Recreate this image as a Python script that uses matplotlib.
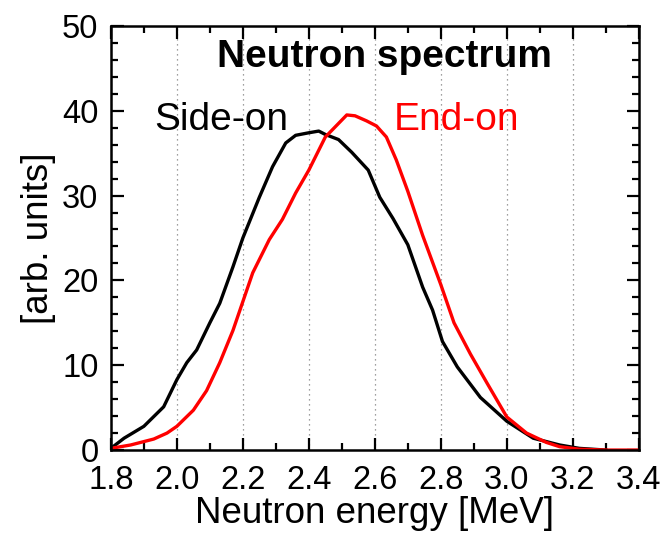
import matplotlib
matplotlib.use("Agg")
import matplotlib.pyplot as plt
from matplotlib.ticker import MultipleLocator

plt.rcParams["font.family"] = ["Liberation Sans", "DejaVu Sans"]

# Side-on spectrum (energy in MeV, counts in arb. units)
side_x = [1.80, 1.84, 1.90, 1.96, 2.00, 2.03, 2.06, 2.10, 2.13, 2.17, 2.20,
          2.25, 2.29, 2.33, 2.36, 2.40, 2.43, 2.45, 2.49, 2.53, 2.58, 2.615,
          2.655, 2.70, 2.745, 2.775, 2.805, 2.85, 2.92, 3.00, 3.08, 3.16,
          3.22, 3.30]
side_y = [0.2, 1.4, 2.8, 5.1, 8.3, 10.3, 11.8, 15.0, 17.3, 21.6, 25.0,
          29.8, 33.4, 36.2, 37.1, 37.4, 37.6, 37.2, 36.6, 35.1, 33.0, 29.8,
          27.3, 24.2, 19.2, 16.5, 12.8, 9.8, 6.2, 3.4, 1.4, 0.6,
          0.2, 0.0]

# End-on spectrum
end_x = [1.80, 1.86, 1.93, 1.97, 2.00, 2.05, 2.09, 2.13, 2.17, 2.20, 2.23,
         2.28, 2.32, 2.36, 2.40, 2.45, 2.485, 2.515, 2.54, 2.575, 2.605,
         2.635, 2.665, 2.70, 2.745, 2.80, 2.84, 2.89, 2.94, 3.00, 3.06,
         3.12, 3.16, 3.22, 3.30, 3.40]
end_y = [0.2, 0.6, 1.3, 2.0, 2.8, 4.7, 7.0, 10.3, 14.1, 17.5, 20.9,
         24.8, 27.2, 30.3, 33.0, 36.9, 38.3, 39.5, 39.4, 38.8, 38.2,
         36.9, 34.2, 30.5, 25.3, 19.5, 15.0, 11.3, 7.9, 3.9, 2.0,
         0.9, 0.4, 0.1, 0.0, 0.0]

fig = plt.figure(figsize=(6.64, 5.39), dpi=100)
ax = fig.add_axes([0.167, 0.165, 0.795, 0.787])

ax.plot(side_x, side_y, color="black", linewidth=2.4)
ax.plot(end_x, end_y, color="red", linewidth=2.4)

ax.set_xlim(1.8, 3.4)
ax.set_ylim(0, 50)
ax.xaxis.set_major_locator(MultipleLocator(0.2))
ax.xaxis.set_minor_locator(MultipleLocator(0.1))
ax.yaxis.set_major_locator(MultipleLocator(10))
ax.yaxis.set_minor_locator(MultipleLocator(2))
ax.xaxis.set_major_formatter(lambda v, pos: f"{v:.1f}")

ax.tick_params(which="both", direction="in", top=True, right=True,
               labelsize=23.5, width=1.6)
ax.tick_params(axis="x", pad=11)
ax.tick_params(axis="y", pad=9)
ax.tick_params(which="major", length=9)
ax.tick_params(which="minor", length=5)
for s in ax.spines.values():
    s.set_linewidth(1.8)

ax.grid(True, axis="x", which="major", linestyle=(0, (1, 3)),
        color="gray", linewidth=0.9)

ax.set_xlabel("Neutron energy [MeV]", fontsize=26.5, labelpad=0)
ax.set_ylabel("[arb. units]", fontsize=26.5, labelpad=4)

ax.text(2.63, 46.3, "Neutron spectrum", fontsize=28, fontweight="bold",
        ha="center", va="center")
ax.text(2.136, 38.9, "Side-on", fontsize=28, ha="center", va="center")
ax.text(2.849, 38.9, "End-on", fontsize=28, color="red",
        ha="center", va="center")

fig.savefig("out.png", dpi=100)
